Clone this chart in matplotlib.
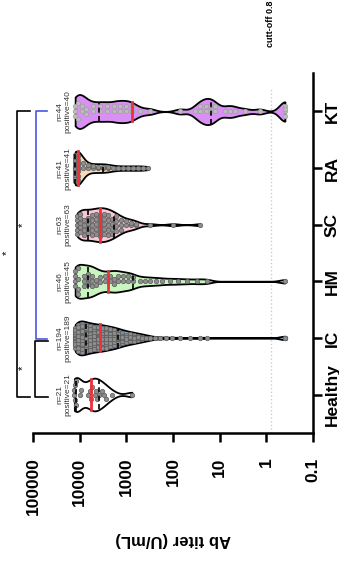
import numpy as np
import matplotlib
matplotlib.use('Agg')
import matplotlib.pyplot as plt
from matplotlib.ticker import NullLocator

plt.rcParams['font.family'] = ['Liberation Sans', 'DejaVu Sans']

groups = ['Healthy', 'IC', 'HM', 'SC', 'RA', 'KT']
n_total = [21, 194, 46, 63, 41, 44]
n_positive = [21, 189, 45, 63, 41, 40]
fill_colors = ['#ffffff', '#8fb4ec', '#c9f5c0', '#f9c5d9', '#f9d9bb', '#d98ff3']
cutoff = 0.8

# titer values (U/mL), with the number of samples at each
healthy_titer = [13000, 12500, 12000, 10000, 9500, 6500, 6000, 5800, 5500, 4800,
                 4500, 4200, 3800, 3300, 3000, 2700, 2000, 760]
healthy_count = [2, 2, 2, 1, 1, 1, 1, 1, 1, 1, 1, 1, 1, 1, 1, 1, 1, 1]

ic_titer = [12500, 10800, 8800, 7300, 6000, 4900, 4000, 3300, 2700, 2200, 1800,
            1500, 1230, 1000, 830, 680, 560, 460, 380, 310, 240, 190, 140, 105,
            70, 43, 26, 19, 0.4]
ic_count = [18, 15, 14, 13, 13, 12, 12, 11, 11, 10, 9, 8, 7, 6, 5, 5, 4, 3, 3, 2,
            1, 1, 1, 1, 1, 1, 1, 1, 5]

hm_titer = [12500, 10800, 8000, 6600, 5400, 4400, 3600, 2800, 2200, 1800, 1500,
            1170, 910, 710, 510, 400, 310, 230, 170, 115, 78, 50, 30, 19, 0.4]
hm_count = [4, 4, 3, 3, 3, 2, 2, 2, 2, 2, 2, 2, 2, 2, 1, 1, 1, 1, 1, 1, 1, 1, 1, 1, 1]

sc_titer = [11300, 9700, 8000, 6600, 5400, 4400, 3600, 3000, 2450, 2000, 1650,
            1290, 1010, 790, 620, 310, 100, 26]
sc_count = [5, 5, 4, 4, 5, 5, 5, 5, 5, 4, 4, 3, 2, 2, 2, 1, 1, 1]

ra_titer = [12500, 10800, 8400, 6600, 5100, 4000, 3100, 2450, 1900, 1500, 1170,
            910, 710, 560, 440, 340]
ra_count = [13, 8, 2, 2, 2, 2, 2, 2, 1, 1, 1, 1, 1, 1, 1, 1]

kt_titer = [12500, 10800, 8800, 7300, 5100, 3600, 2600, 1800, 1360, 1000, 750,
            510, 310, 70, 34, 26, 20, 16, 12.5, 7.6, 6.0, 4.7, 2.9, 1.4, 0.4]
kt_count = [3, 2, 2, 2, 2, 2, 2, 2, 2, 2, 2, 1, 1, 1, 1, 2, 2, 2, 2, 1, 1, 1, 1, 1, 4]

data = [np.repeat(healthy_titer, healthy_count), np.repeat(ic_titer, ic_count),
        np.repeat(hm_titer, hm_count), np.repeat(sc_titer, sc_count),
        np.repeat(ra_titer, ra_count), np.repeat(kt_titer, kt_count)]

W, H = 339, 561
fig = plt.figure(figsize=(W / 100, H / 100), dpi=100)
ax = fig.add_axes([33 / W, 128 / H, 280 / W, 360 / H])
ax.set_xscale('log')
ax.set_xlim(1e5, 1e-1)
ax.set_ylim(-0.68, 5.68)

px_x = 280 / 6.0      # pixels per decade
px_y = 360 / 6.36     # pixels per category step
max_half = 0.30
bw = 0.12
diam = 4.2


def kde(logv, grid):
    d = (grid[:, None] - logv[None, :]) / bw
    return np.exp(-0.5 * d ** 2).sum(axis=1)


def swarm(logv, grid, half):
    xs = logv * px_x
    offs = np.zeros(len(logv))
    px, py = [], []
    for k in np.argsort(-logv):
        lim = max(np.interp(logv[k], grid, half) * px_y - 2.4, 0)
        cands = [0.0]
        j = 1
        while j <= lim:
            cands += [float(j), float(-j)]
            j += 1
        best, best_d = 0.0, -1
        for c in cands:
            if px:
                dmin = np.min(np.hypot(xs[k] - np.array(px), c - np.array(py)))
            else:
                dmin = np.inf
            if dmin >= diam:
                best = c
                break
            if dmin > best_d:
                best_d, best = dmin, c
        offs[k] = best
        px.append(xs[k])
        py.append(best)
    return offs / px_y


for i, vals in enumerate(data):
    logv = np.log10(vals)
    grid = np.linspace(logv.min(), logv.max(), 500)
    dens = kde(logv, grid)
    half = dens / dens.max() * max_half
    ax.fill_between(10 ** grid, i - half, i + half, facecolor=fill_colors[i],
                    edgecolor='black', linewidth=1.3, zorder=2)
    offs = swarm(logv, grid, half)
    if groups[i] == 'KT':
        fc, ec = '#bdbdbd', '#a0a0a0'
    else:
        fc, ec = '#8e8e8e', '#5c5c5c'
    ax.plot(vals, i + offs, 'o', ms=3.2, mfc=fc, mec=ec, mew=0.5, zorder=3)
    med = np.median(logv)
    w = np.interp(med, grid, half)
    ax.plot([10 ** med] * 2, [i - w, i + w], color='#e8323c', lw=2, zorder=4)
    for q in np.percentile(logv, [25, 75]):
        w = np.interp(q, grid, half)
        ax.plot([10 ** q] * 2, [i - w, i + w], color='black', lw=1.2,
                ls=(0, (3, 2)), zorder=4)

# cut-off
ax.axvline(cutoff, ymin=0, ymax=0.96, color='#cccccc', ls=':', lw=1, zorder=1)
ax.text(cutoff, 1.072, 'cutt-off 0.8', transform=ax.get_xaxis_transform(),
        rotation=90, ha='center', va='bottom', fontsize=6.5, fontweight='bold')

# n / positive labels
ytr = ax.get_yaxis_transform()
for i in range(len(groups)):
    ax.text(0.136, i, 'n=%d\npositive=%d' % (n_total[i], n_positive[i]),
            transform=ytr, rotation=90, ha='right', va='center',
            multialignment='center', fontsize=6, color='#333333',
            linespacing=1.1)


# significance brackets
def bracket(x0, x1, y0, y1, color):
    ax.plot([x1, x0, x0, x1], [y0, y0, y1, y1], color=color, lw=1.2,
            transform=ytr, clip_on=False)


bracket(-0.057, -0.011, 5, -0.05, 'black')
bracket(0.008, 0.054, 0.94, -0.05, 'black')
bracket(0.012, 0.050, 5, 0.98, '#4a55e0')
ax.text(-0.095, 2.5, '*', transform=ytr, rotation=90, ha='center', va='center', fontsize=8)
ax.text(-0.036, 3.0, '*', transform=ytr, rotation=90, ha='center', va='center', fontsize=8)
ax.text(-0.036, 0.47, '*', transform=ytr, rotation=90, ha='center', va='center', fontsize=8)

# axes styling
for s in ['top', 'left']:
    ax.spines[s].set_visible(False)
for s in ['bottom', 'right']:
    ax.spines[s].set_linewidth(1.8)
ax.yaxis.tick_right()
ax.set_yticks(range(len(groups)))
ax.set_yticklabels(groups, rotation=90, va='center', ha='left',
                   fontsize=12.5, fontweight='bold')
xticks = [1e5, 1e4, 1e3, 1e2, 1e1, 1, 0.1]
ax.set_xticks(xticks)
ax.xaxis.set_minor_locator(NullLocator())
ax.set_xticklabels(['100000', '10000', '1000', '100', '10', '1', '0.1'],
                   rotation=90, va='top', ha='center', fontsize=12.5,
                   fontweight='bold')
ax.tick_params(axis='x', length=6.5, width=1.8, pad=11)
ax.tick_params(axis='y', length=6.5, width=1.8, pad=2)
ax.text(0.5, -0.297, 'Ab titer (U/mL)', transform=ax.transAxes, rotation=180,
        ha='center', va='center', fontsize=12, fontweight='bold')

fig.savefig('out.png', dpi=100)
